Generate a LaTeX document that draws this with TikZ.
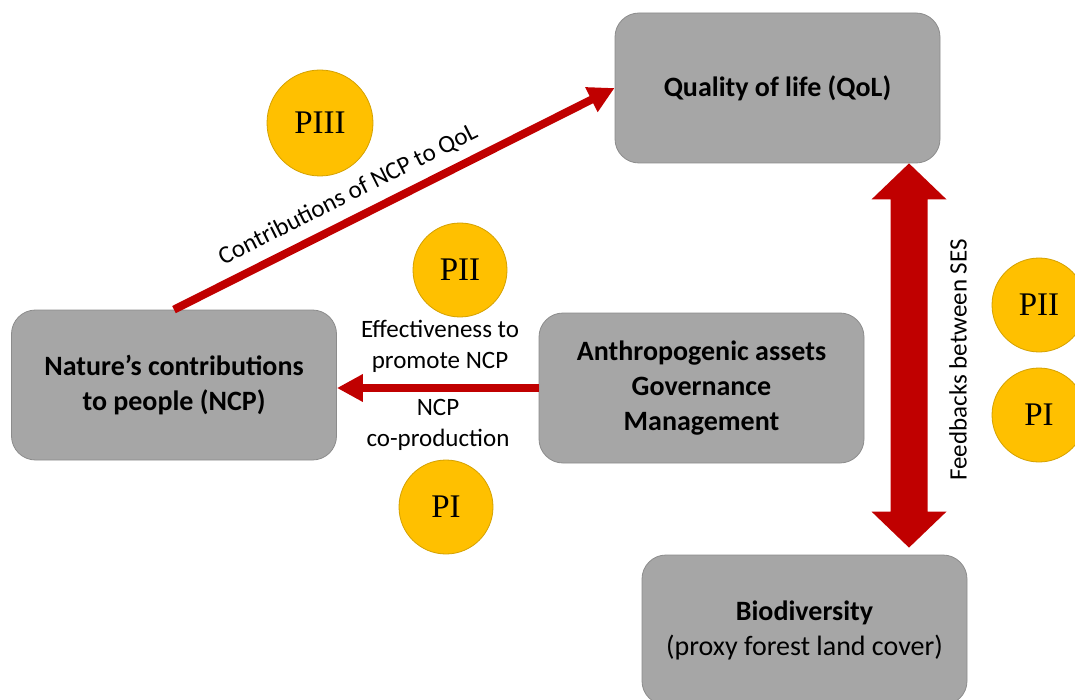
\documentclass[tikz,border=0pt]{standalone}
\usepackage{fontspec}
\setmainfont{Carlito}
\newfontfamily\pfont{Liberation Serif}
\usetikzlibrary{arrows.meta,calc}
\definecolor{boxgray}{HTML}{A6A6A6}
\definecolor{boxedge}{HTML}{8C8C8C}
\definecolor{linkred}{HTML}{C00000}
\definecolor{pgold}{HTML}{FFC000}
\definecolor{pedge}{HTML}{D4A100}
\begin{document}
\begin{tikzpicture}[x=1pt,y=-1pt,
  block/.style={draw=boxedge, line width=0.8pt, fill=boxgray, rounded corners=24pt,
    minimum width=325pt, minimum height=150pt, align=center, inner sep=0pt,
    font=\fontsize{28}{35}\selectfont},
  phase/.style={circle, draw=pedge, line width=0.8pt, fill=pgold, minimum size=94pt,
    inner sep=0pt, font=\pfont\fontsize{33}{33}\selectfont},
  edgelabel/.style={font=\fontsize{25}{31}\selectfont, align=center, inner sep=0pt},
  link/.style={draw=linkred, line width=8pt, -{Triangle[length=26pt,width=26pt]}}
]
\useasboundingbox (0,0) rectangle (1075,700);

% main components
\node[block] (qol)  at (777.5,88)  {\textbf{Quality of life (QoL)}};
\node[block] (ncp)  at (174,385)   {\textbf{Nature’s contributions}\\\textbf{to people (NCP)}};
\node[block] (anth) at (701.5,388) {\textbf{Anthropogenic assets}\\\textbf{Governance}\\\textbf{Management}};
\node[block] (bio)  at (804.5,630) {\textbf{Biodiversity}\\(proxy forest land cover)};

% phase markers
\node[phase, minimum size=106pt] (p3)  at (320,123)  {PIII};
\node[phase] (p2)  at (460,270)  {PII};
\node[phase] (p1)  at (446,507)  {PI};
\node[phase] (p2r) at (1039,305) {PII};
\node[phase] (p1r) at (1039,415) {PI};

% contributions of NCP to QoL
\draw[link] (ncp.north) -- (qol.west)
  node[pos=0.42, sloped, above=10pt, edgelabel] {Contributions of NCP to QoL};

% co-production of NCP
\draw[link] (anth.west) -- (anth.west -| ncp.east);
\node[edgelabel] (eff) at (440,346) {Effectiveness to\\promote NCP};
\node[edgelabel] (cop) at (438,425) {NCP\\co-production};

% feedbacks between SES (double arrow)
\coordinate (ft) at ([xshift=131.5pt]qol.south);
\coordinate (fb) at ([xshift=104.5pt,yshift=7pt]bio.north);
\fill[linkred] (ft) -- ($(ft)+(37.5,36)$) -- ($(ft)+(18.5,36)$) -- ($(fb)+(18.5,-36)$)
  -- ($(fb)+(37.5,-36)$) -- (fb) -- ($(fb)+(-37.5,-36)$) -- ($(fb)+(-18.5,-36)$)
  -- ($(ft)+(-18.5,36)$) -- ($(ft)+(-37.5,36)$) -- cycle;
\node[edgelabel, rotate=90] (fdb) at (958,360) {Feedbacks between SES};
\end{tikzpicture}
\end{document}
